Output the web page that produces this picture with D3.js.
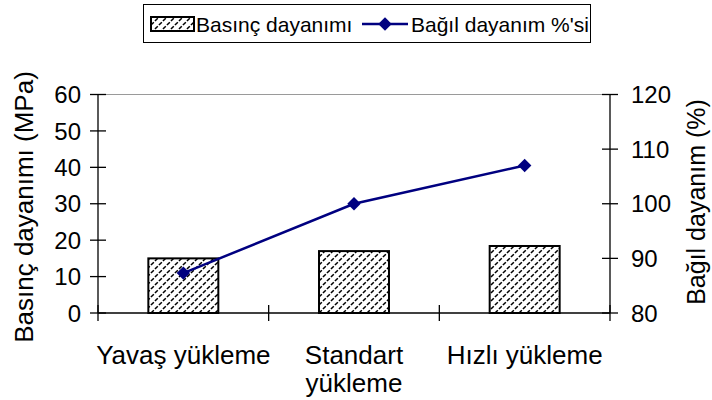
<!DOCTYPE html>
<html>
<head>
<meta charset="utf-8">
<script src="https://cdn.jsdelivr.net/npm/d3@7"></script>
<style>
  body { margin: 0; background: #fff; }
  text { font-family: "Liberation Sans", Arial, sans-serif; fill: #000; }
</style>
</head>
<body>
<svg width="712" height="400"></svg>
<script>
var categories = [["Yavaş yükleme"], ["Standart", "yükleme"], ["Hızlı yükleme"]];
var strength = [15, 17, 18.4];          // Basınç dayanımı (MPa)
var relative = [87.3, 100, 107];        // Bağıl dayanım %'si
var leftTicks = [0, 10, 20, 30, 40, 50, 60];
var rightTicks = [80, 90, 100, 110, 120];

var svg = d3.select("svg"),
  plotL = 98, plotR = 610, plotT = 94.5, plotB = 313,
  navy = "#000080";

var keys = categories.map(function (d) { return d.join(" "); });

var x = d3.scaleBand()
  .domain(keys)
  .range([plotL, plotR])
  .padding(0);

var y = d3.scaleLinear().domain([0, 60]).range([plotB, plotT]);
var y2 = d3.scaleLinear().domain([80, 120]).range([plotB, plotT]);

var barWidth = x.bandwidth() * 0.41;
function cx(i) { return x(keys[i]) + x.bandwidth() / 2; }

// hatch pattern
var pat = svg.append("defs").append("pattern")
  .attr("id", "hatch")
  .attr("patternUnits", "userSpaceOnUse")
  .attr("width", 8)
  .attr("height", 8);
pat.append("rect").attr("width", 8).attr("height", 8).attr("fill", "#fff");
pat.append("path")
  .attr("d", "M-1,9 L9,-1 M-2,2 L2,-2 M6,10 L10,6")
  .attr("stroke", "#000")
  .attr("stroke-width", 1.5)
  .attr("stroke-dasharray", "4,1.6");

// top border of plot area
svg.append("line")
  .attr("x1", plotL).attr("x2", plotR)
  .attr("y1", plotT).attr("y2", plotT)
  .attr("stroke", "#9a9a9a");

// bars
svg.selectAll("rect.bar")
  .data(strength)
  .enter().append("rect")
  .attr("class", "bar")
  .attr("x", function (d, i) { return cx(i) - barWidth / 2; })
  .attr("y", function (d) { return y(d); })
  .attr("width", barWidth)
  .attr("height", function (d) { return plotB - y(d); })
  .attr("fill", "url(#hatch)")
  .attr("stroke", "#000")
  .attr("stroke-width", 2);

// axes lines
var axis = svg.append("g").attr("stroke", "#000").attr("stroke-width", 1.3);
axis.append("line").attr("x1", plotL).attr("x2", plotL).attr("y1", plotT).attr("y2", plotB);
axis.append("line").attr("x1", plotR).attr("x2", plotR).attr("y1", plotT).attr("y2", plotB);
axis.append("line").attr("x1", plotL).attr("x2", plotR).attr("y1", plotB).attr("y2", plotB);

leftTicks.forEach(function (t) {
  axis.append("line").attr("x1", plotL - 8).attr("x2", plotL + 8).attr("y1", y(t)).attr("y2", y(t));
  svg.append("text").attr("x", plotL - 17).attr("y", y(t)).attr("dy", "0.36em")
    .attr("text-anchor", "end").style("font-size", "24px").text(t);
});
rightTicks.forEach(function (t) {
  axis.append("line").attr("x1", plotR - 8).attr("x2", plotR + 8).attr("y1", y2(t)).attr("y2", y2(t));
  svg.append("text").attr("x", plotR + 21).attr("y", y2(t)).attr("dy", "0.36em")
    .attr("text-anchor", "start").style("font-size", "24px").text(t);
});
keys.forEach(function (k) {
  axis.append("line").attr("x1", x(k)).attr("x2", x(k)).attr("y1", plotB - 8).attr("y2", plotB + 8);
});
axis.append("line").attr("x1", plotR).attr("x2", plotR).attr("y1", plotB - 8).attr("y2", plotB + 8);

// category labels
categories.forEach(function (lines, i) {
  var t = svg.append("text")
    .attr("text-anchor", "middle")
    .attr("x", cx(i))
    .attr("y", 364)
    .style("font-size", "26px");
  lines.forEach(function (s, j) {
    t.append("tspan").attr("x", cx(i)).attr("dy", j ? 28 : 0).text(s);
  });
});

// axis titles
svg.append("text")
  .attr("transform", "translate(33,207) rotate(-90)")
  .attr("text-anchor", "middle")
  .style("font-size", "26px")
  .text("Basınç dayanımı (MPa)");
svg.append("text")
  .attr("transform", "translate(705,202) rotate(-90)")
  .attr("text-anchor", "middle")
  .style("font-size", "25px")
  .text("Bağıl dayanım (%)");

// line series
var line = d3.line()
  .x(function (d, i) { return cx(i); })
  .y(function (d) { return y2(d); });

svg.append("path")
  .datum(relative)
  .attr("d", line)
  .attr("fill", "none")
  .attr("stroke", navy)
  .attr("stroke-width", 2.5);

var diamond = d3.symbol().type(d3.symbolDiamond2).size(115);
svg.selectAll("path.pt")
  .data(relative)
  .enter().append("path")
  .attr("class", "pt")
  .attr("transform", function (d, i) { return "translate(" + cx(i) + "," + y2(d) + ")"; })
  .attr("d", diamond)
  .attr("fill", navy);

// legend
var lg = svg.append("g");
lg.append("rect")
  .attr("x", 143.5).attr("y", 4.5).attr("width", 447).attr("height", 38)
  .attr("fill", "#fff").attr("stroke", "#000").attr("stroke-width", 1);
lg.append("rect")
  .attr("x", 151).attr("y", 17).attr("width", 43).attr("height", 14)
  .attr("fill", "url(#hatch)").attr("stroke", "#000").attr("stroke-width", 2);
lg.append("text").attr("x", 196).attr("y", 32).style("font-size", "21px").text("Basınç dayanımı");
lg.append("line").attr("x1", 362).attr("x2", 408).attr("y1", 24).attr("y2", 24)
  .attr("stroke", navy).attr("stroke-width", 2.5);
lg.append("path").attr("transform", "translate(385,24)").attr("d", diamond).attr("fill", navy);
lg.append("text").attr("x", 411).attr("y", 32).style("font-size", "21px").text("Bağıl dayanım %'si");
</script>
</body>
</html>
